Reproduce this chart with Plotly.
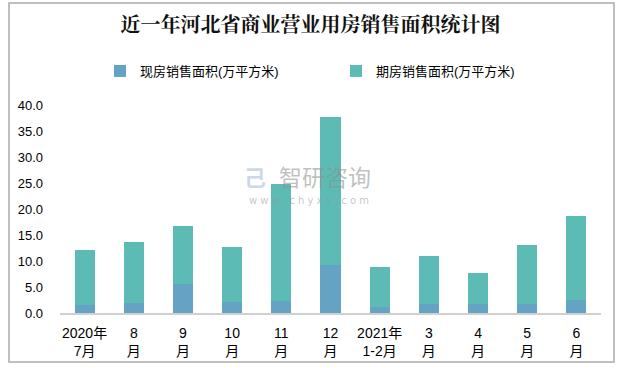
import plotly.graph_objects as go

categories = ["2020年<br>7月", "8<br>月", "9<br>月", "10<br>月", "11<br>月", "12<br>月",
              "2021年<br>1-2月", "3<br>月", "4<br>月", "5<br>月", "6<br>月"]
totals = [12.1, 13.7, 16.7, 12.7, 24.8, 37.7, 8.8, 11.0, 7.7, 13.1, 18.7]
spot = [1.5, 2.0, 5.6, 2.1, 2.3, 9.2, 1.15, 1.7, 1.7, 1.7, 2.5]
presale = [round(t - s, 2) for t, s in zip(totals, spot)]

W, H = 621, 368
L, R, T, B = 60, 20, 105, 55
pw, ph = W - L - R, H - T - B

def px_x(x):
    return (x - L) / pw

def px_y(y):
    return (H - B - y) / ph

cjk = "Arial, Liberation Sans, Noto Sans CJK SC"

fig = go.Figure()
fig.add_trace(go.Bar(x=list(range(len(categories))), y=spot, name="现房销售面积(万平方米)",
                     marker=dict(color="#64A3C3", line=dict(width=0))))
fig.add_trace(go.Bar(x=list(range(len(categories))), y=presale, name="期房销售面积(万平方米)",
                     marker=dict(color="#5CBCB5", line=dict(width=0))))

fig.update_layout(
    width=W, height=H,
    margin=dict(l=L, r=R, t=T, b=B, autoexpand=False),
    barmode="stack", bargap=0.59,
    plot_bgcolor="white", paper_bgcolor="white",
    font=dict(family=cjk, size=13, color="#000000"),
    title=dict(text="<b>近一年河北省商业营业用房销售面积统计图</b>",
               x=0.5, xanchor="center", y=1 - 25 / H, yanchor="middle",
               font=dict(family="Noto Serif CJK SC, Noto Sans CJK SC", size=20, color="#111111")),
    showlegend=True,
    legend=dict(orientation="h", x=px_x(100), xanchor="left", y=px_y(71), yanchor="middle",
                entrywidth=191, entrywidthmode="pixels", traceorder="normal",
                font=dict(family=cjk, size=13), itemwidth=30, bgcolor="rgba(0,0,0,0)"),
    xaxis=dict(tickmode="array", tickvals=list(range(len(categories))), ticktext=categories,
               range=[-0.5, len(categories) - 0.5], automargin=False,
               showline=True, linecolor="#D0D0D0", linewidth=1.5, ticks="",
               showgrid=False, tickfont=dict(family=cjk, size=14), ticklabelstandoff=6),
    yaxis=dict(range=[0, 40], dtick=5, tickformat=".1f", showgrid=False, showline=False,
               zeroline=False, ticks="", ticklabelstandoff=16, automargin=False,
               tickfont=dict(family=cjk, size=13)),
)

# outer border
fig.add_shape(type="rect", xref="paper", yref="paper",
              x0=px_x(9), x1=px_x(614), y0=px_y(362), y1=px_y(3),
              line=dict(color="#AAAAAA", width=1.5), layer="below")

# watermark
fig.add_annotation(xref="paper", yref="paper", x=px_x(325), y=px_y(176),
                   text="智研咨询", showarrow=False,
                   font=dict(family="Noto Sans CJK SC", size=23, color="rgba(140,140,140,0.55)"))
fig.add_annotation(xref="paper", yref="paper", x=px_x(309), y=px_y(200),
                   text="w w w . c h y x x . c o m", showarrow=False,
                   font=dict(family="DejaVu Sans", size=10, color="rgba(150,150,150,0.55)"))
fig.add_annotation(xref="paper", yref="paper", x=px_x(255), y=px_y(176),
                   text="<b>己</b>", showarrow=False,
                   font=dict(family="Noto Sans CJK SC", size=22, color="rgba(170,190,220,0.6)"))

fig.write_html("out.html", config={"displayModeBar": False},
               post_script="document.body.style.margin='0';")
